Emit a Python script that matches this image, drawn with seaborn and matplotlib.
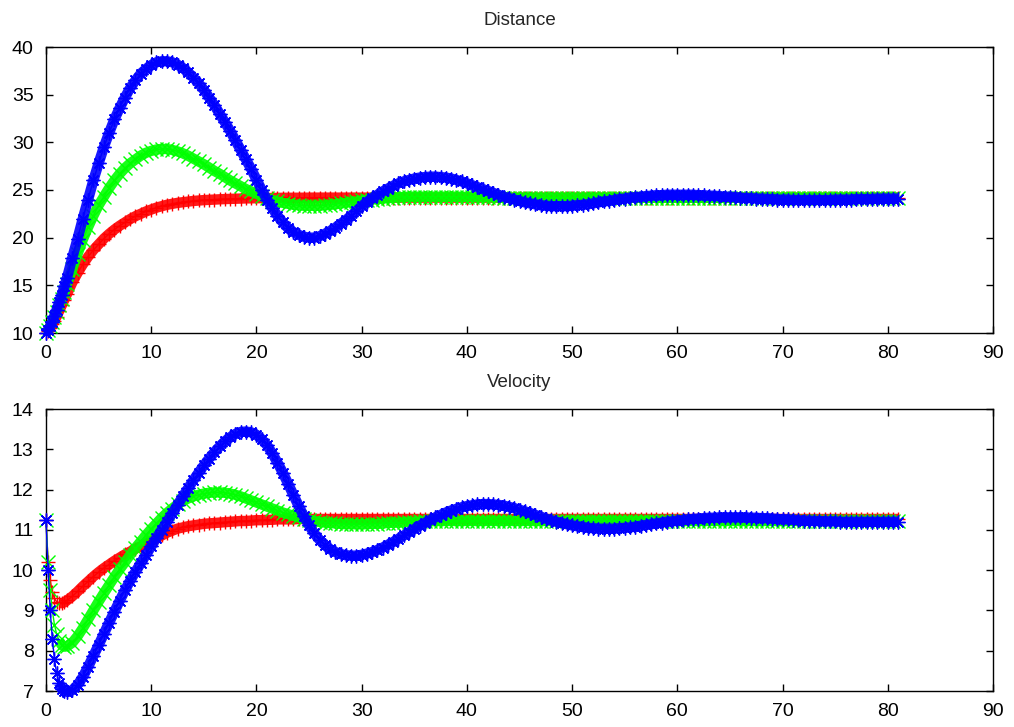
import numpy as np
import matplotlib
matplotlib.use("Agg")
import matplotlib.pyplot as plt
import seaborn as sns

# sample times: finer steps over the first two seconds, then every 0.5
t_early = [0.0, 0.2, 0.4, 0.6, 0.8, 1.0, 1.25, 1.5, 1.75, 2.0]
t = np.array(t_early + list(np.arange(2.5, 81.01, 0.5)))

dist_red = [
    10.0, 10.25, 10.55, 10.9, 11.3, 11.7, 12.3, 12.9, 13.5, 14.1,
    15.3, 16.3, 17.2, 18.0, 18.7, 19.3, 19.9, 20.4, 20.85, 21.25,
    21.6, 21.95, 22.25, 22.5, 22.75, 22.95, 23.15, 23.3, 23.45, 23.55,
    23.65, 23.72, 23.8, 23.85, 23.9, 23.94, 23.97, 24.0, 24.03, 24.05,
    24.07, 24.09, 24.1, 24.12, 24.13, 24.14, 24.15, 24.16, 24.17, 24.17,
    24.18, 24.18, 24.19, 24.19, 24.19, 24.2, 24.2, 24.2, 24.2, 24.2,
    24.2, 24.2, 24.2, 24.2, 24.2, 24.2, 24.2, 24.2, 24.2, 24.2,
    24.2, 24.2, 24.2, 24.2, 24.2, 24.2, 24.2, 24.2, 24.2, 24.2,
    24.2, 24.2, 24.2, 24.2, 24.2, 24.2, 24.2, 24.2, 24.2, 24.2,
    24.2, 24.2, 24.2, 24.2, 24.2, 24.2, 24.2, 24.2, 24.2, 24.2,
    24.2, 24.2, 24.2, 24.2, 24.2, 24.2, 24.2, 24.2, 24.2, 24.2,
    24.2, 24.2, 24.2, 24.2, 24.2, 24.2, 24.2, 24.2, 24.2, 24.2,
    24.2, 24.2, 24.2, 24.2, 24.2, 24.2, 24.2, 24.2, 24.2, 24.2,
    24.2, 24.2, 24.2, 24.2, 24.2, 24.2, 24.2, 24.2, 24.2, 24.2,
    24.2, 24.2, 24.2, 24.2, 24.2, 24.2, 24.2, 24.2, 24.2, 24.2,
    24.2, 24.2, 24.2, 24.2, 24.2, 24.2, 24.2, 24.2, 24.2, 24.2,
    24.2, 24.2, 24.2, 24.2, 24.2, 24.2, 24.2, 24.2,
]

dist_green = [
    10.0, 10.3, 10.7, 11.2, 11.7, 12.2, 12.9, 13.6, 14.3, 15.1,
    16.7, 18.3, 19.8, 21.1, 22.3, 23.4, 24.3, 25.2, 26.0, 26.7,
    27.3, 27.8, 28.2, 28.6, 28.9, 29.1, 29.25, 29.3, 29.3, 29.2,
    29.05, 28.85, 28.6, 28.3, 28.0, 27.7, 27.35, 27.0, 26.7, 26.35,
    26.0, 25.7, 25.4, 25.1, 24.85, 24.6, 24.35, 24.15, 23.95, 23.8,
    23.65, 23.55, 23.45, 23.4, 23.35, 23.35, 23.35, 23.35, 23.4, 23.45,
    23.5, 23.6, 23.65, 23.75, 23.8, 23.9, 23.95, 24.0, 24.05, 24.1,
    24.15, 24.2, 24.25, 24.25, 24.3, 24.3, 24.3, 24.3, 24.3, 24.3,
    24.3, 24.3, 24.3, 24.3, 24.28, 24.27, 24.26, 24.25, 24.24, 24.23,
    24.22, 24.21, 24.2, 24.2, 24.19, 24.19, 24.18, 24.18, 24.18, 24.18,
    24.18, 24.18, 24.18, 24.18, 24.18, 24.18, 24.18, 24.19, 24.19, 24.19,
    24.19, 24.19, 24.2, 24.2, 24.2, 24.2, 24.2, 24.2, 24.2, 24.2,
    24.2, 24.2, 24.2, 24.2, 24.2, 24.2, 24.2, 24.2, 24.2, 24.2,
    24.2, 24.2, 24.2, 24.2, 24.2, 24.2, 24.2, 24.2, 24.2, 24.2,
    24.2, 24.2, 24.2, 24.2, 24.2, 24.2, 24.2, 24.2, 24.2, 24.2,
    24.2, 24.2, 24.2, 24.2, 24.2, 24.2, 24.2, 24.2, 24.2, 24.2,
    24.2, 24.2, 24.2, 24.2, 24.2, 24.2, 24.2, 24.2,
]

dist_blue = [
    10.0, 10.3, 10.7, 11.2, 11.8, 12.4, 13.2, 14.0, 14.9, 15.8,
    17.9, 19.9, 22.0, 24.0, 26.0, 27.8, 29.5, 31.0, 32.4, 33.6,
    34.7, 35.7, 36.5, 37.2, 37.7, 38.1, 38.4, 38.5, 38.5, 38.4,
    38.15, 37.8, 37.35, 36.8, 36.2, 35.5, 34.7, 33.9, 33.0, 32.1,
    31.2, 30.2, 29.2, 28.2, 27.2, 26.1, 25.0, 24.0, 23.1, 22.3,
    21.6, 21.0, 20.6, 20.3, 20.1, 20.0, 20.0, 20.15, 20.4, 20.7,
    21.05, 21.45, 21.85, 22.3, 22.8, 23.3, 23.75, 24.15, 24.5, 24.85,
    25.15, 25.45, 25.7, 25.9, 26.05, 26.2, 26.3, 26.35, 26.4, 26.4,
    26.35, 26.3, 26.2, 26.05, 25.9, 25.7, 25.5, 25.3, 25.1, 24.9,
    24.7, 24.5, 24.3, 24.15, 24.0, 23.85, 23.7, 23.6, 23.5, 23.4,
    23.35, 23.3, 23.3, 23.3, 23.3, 23.35, 23.4, 23.45, 23.5, 23.6,
    23.7, 23.8, 23.85, 23.95, 24.05, 24.1, 24.2, 24.25, 24.3, 24.35,
    24.4, 24.45, 24.45, 24.5, 24.5, 24.5, 24.5, 24.5, 24.5, 24.45,
    24.45, 24.4, 24.4, 24.35, 24.3, 24.3, 24.25, 24.2, 24.15, 24.15,
    24.1, 24.1, 24.05, 24.05, 24.0, 24.0, 24.0, 23.95, 23.95, 23.95,
    23.95, 23.95, 23.95, 23.95, 23.95, 24.0, 24.0, 24.0, 24.0, 24.05,
    24.05, 24.05, 24.05, 24.1, 24.1, 24.1, 24.1, 24.1,
]

vel_red = [
    11.25, 10.2, 9.75, 9.45, 9.3, 9.22, 9.18, 9.18, 9.2, 9.25,
    9.35, 9.47, 9.6, 9.72, 9.84, 9.95, 10.05, 10.14, 10.23, 10.31,
    10.39, 10.46, 10.53, 10.59, 10.66, 10.72, 10.79, 10.86, 10.93, 10.98,
    11.03, 11.06, 11.09, 11.11, 11.13, 11.15, 11.16, 11.17, 11.18, 11.19,
    11.2, 11.21, 11.22, 11.22, 11.23, 11.24, 11.24, 11.25, 11.25, 11.26,
    11.26, 11.26, 11.26, 11.27, 11.27, 11.27, 11.27, 11.27, 11.27, 11.27,
    11.27, 11.27, 11.27, 11.27, 11.27, 11.27, 11.27, 11.27, 11.27, 11.27,
    11.27, 11.27, 11.27, 11.27, 11.27, 11.27, 11.27, 11.27, 11.27, 11.27,
    11.27, 11.27, 11.27, 11.27, 11.27, 11.27, 11.27, 11.27, 11.27, 11.27,
    11.27, 11.27, 11.27, 11.27, 11.27, 11.27, 11.27, 11.27, 11.27, 11.27,
    11.27, 11.27, 11.27, 11.27, 11.27, 11.27, 11.27, 11.27, 11.27, 11.27,
    11.27, 11.27, 11.27, 11.27, 11.27, 11.27, 11.27, 11.27, 11.27, 11.27,
    11.27, 11.27, 11.27, 11.27, 11.27, 11.27, 11.27, 11.27, 11.27, 11.27,
    11.27, 11.27, 11.27, 11.27, 11.27, 11.27, 11.27, 11.27, 11.27, 11.27,
    11.27, 11.27, 11.27, 11.27, 11.27, 11.27, 11.27, 11.27, 11.27, 11.27,
    11.27, 11.27, 11.27, 11.27, 11.27, 11.27, 11.27, 11.27, 11.27, 11.27,
    11.27, 11.27, 11.27, 11.27, 11.27, 11.27, 11.27, 11.27,
]

vel_green = [
    11.25, 10.2, 9.5, 9.0, 8.65, 8.42, 8.24, 8.14, 8.1, 8.11,
    8.2, 8.36, 8.56, 8.78, 9.0, 9.22, 9.43, 9.63, 9.83, 10.02,
    10.2, 10.38, 10.55, 10.71, 10.87, 11.02, 11.16, 11.3, 11.42, 11.53,
    11.63, 11.71, 11.78, 11.83, 11.87, 11.9, 11.92, 11.93, 11.93, 11.92,
    11.9, 11.87, 11.83, 11.78, 11.73, 11.68, 11.63, 11.58, 11.53, 11.48,
    11.43, 11.39, 11.35, 11.31, 11.28, 11.25, 11.22, 11.2, 11.18, 11.17,
    11.16, 11.15, 11.14, 11.14, 11.14, 11.14, 11.14, 11.15, 11.15, 11.16,
    11.17, 11.18, 11.18, 11.19, 11.2, 11.2, 11.21, 11.21, 11.21, 11.22,
    11.22, 11.22, 11.22, 11.22, 11.22, 11.22, 11.22, 11.22, 11.22, 11.22,
    11.22, 11.22, 11.22, 11.22, 11.22, 11.22, 11.22, 11.22, 11.22, 11.22,
    11.22, 11.22, 11.22, 11.22, 11.22, 11.22, 11.22, 11.22, 11.22, 11.22,
    11.22, 11.22, 11.22, 11.22, 11.22, 11.22, 11.22, 11.22, 11.22, 11.22,
    11.22, 11.22, 11.22, 11.22, 11.22, 11.22, 11.22, 11.22, 11.22, 11.22,
    11.22, 11.22, 11.22, 11.22, 11.22, 11.22, 11.22, 11.22, 11.22, 11.22,
    11.22, 11.22, 11.22, 11.22, 11.22, 11.22, 11.22, 11.22, 11.22, 11.22,
    11.22, 11.22, 11.22, 11.22, 11.22, 11.22, 11.22, 11.22, 11.22, 11.22,
    11.22, 11.22, 11.22, 11.22, 11.22, 11.22, 11.22, 11.22,
]

vel_blue = [
    11.25, 10.0, 9.0, 8.3, 7.8, 7.45, 7.2, 7.06, 7.0, 6.98,
    7.02, 7.15, 7.35, 7.6, 7.87, 8.14, 8.42, 8.7, 8.97, 9.24,
    9.5, 9.74, 9.96, 10.17, 10.38, 10.59, 10.8, 11.0, 11.2, 11.41,
    11.62, 11.83, 12.03, 12.23, 12.42, 12.6, 12.77, 12.93, 13.07, 13.2,
    13.3, 13.38, 13.43, 13.44, 13.42, 13.36, 13.25, 13.1, 12.9, 12.67,
    12.42, 12.15, 11.87, 11.6, 11.34, 11.11, 10.91, 10.75, 10.62, 10.52,
    10.45, 10.4, 10.37, 10.36, 10.36, 10.38, 10.41, 10.45, 10.5, 10.56,
    10.63, 10.7, 10.78, 10.86, 10.94, 11.02, 11.1, 11.17, 11.24, 11.31,
    11.37, 11.43, 11.48, 11.52, 11.56, 11.59, 11.61, 11.63, 11.64, 11.64,
    11.63, 11.62, 11.6, 11.57, 11.54, 11.5, 11.46, 11.42, 11.37, 11.33,
    11.28, 11.24, 11.2, 11.17, 11.14, 11.11, 11.09, 11.07, 11.05, 11.04,
    11.03, 11.03, 11.03, 11.03, 11.04, 11.05, 11.06, 11.08, 11.1, 11.12,
    11.14, 11.16, 11.18, 11.2, 11.21, 11.23, 11.24, 11.26, 11.27, 11.28,
    11.29, 11.3, 11.3, 11.31, 11.31, 11.31, 11.31, 11.31, 11.31, 11.3,
    11.3, 11.29, 11.29, 11.28, 11.27, 11.26, 11.26, 11.25, 11.24, 11.23,
    11.23, 11.22, 11.22, 11.21, 11.21, 11.21, 11.2, 11.2, 11.2, 11.2,
    11.2, 11.2, 11.2, 11.2, 11.2, 11.2, 11.2, 11.2,
]

x_ticks = list(range(0, 91, 10))
dist_ticks = list(range(10, 41, 5))
vel_ticks = list(range(7, 15))

sns.set_style("ticks")
plt.rcParams["font.family"] = ["Liberation Sans", "DejaVu Sans"]

W, H = 1014, 727
fig = plt.figure(figsize=(W / 100, H / 100), dpi=100)
left, right = 46 / W, 993 / W
ax_d = fig.add_axes([left, 1 - 333 / H, right - left, (333 - 47) / H])
ax_v = fig.add_axes([left, 1 - 691 / H, right - left, (691 - 409) / H])

styles = [
    ("#ff0000", "+"),
    ("#00ff00", "x"),
    ("#0000ff", (8, 2, 0)),
]


def draw(ax, series, band_from):
    for vals, (col, mk) in zip(series, styles):
        # dense point trail: a broad stroke under the point markers
        sns.lineplot(x=t[band_from:], y=vals[band_from:], ax=ax, color=col,
                     linewidth=7.5, alpha=0.9, sort=False, clip_on=False,
                     zorder=3, solid_capstyle="butt")
        sns.lineplot(x=t, y=vals, ax=ax, color=col, marker=mk,
                     markersize=10, markeredgewidth=1.0, markeredgecolor=col,
                     linewidth=1.0, sort=False, clip_on=False, zorder=3)


draw(ax_d, [dist_red, dist_green, dist_blue], 0)
draw(ax_v, [vel_red, vel_green, vel_blue], 6)

for ax, yt, title in [(ax_d, dist_ticks, "Distance"), (ax_v, vel_ticks, "Velocity")]:
    ax.set_xlim(0, 90)
    ax.set_ylim(yt[0], yt[-1])
    ax.set_xticks(x_ticks)
    ax.set_yticks(yt)
    ax.tick_params(direction="in", length=5, width=1, top=True, right=True,
                   labelsize=14, colors="black")
    ax.tick_params(axis="y", pad=9)
    ax.tick_params(axis="x", pad=9)
    for sp in ax.spines.values():
        sp.set_visible(True)
        sp.set_linewidth(1.0)
        sp.set_color("black")
    ax.set_title(title, fontsize=13.5, pad=16)
    ax.set_xlabel("")
    ax.set_ylabel("")

fig.savefig("out.png", dpi=100)
